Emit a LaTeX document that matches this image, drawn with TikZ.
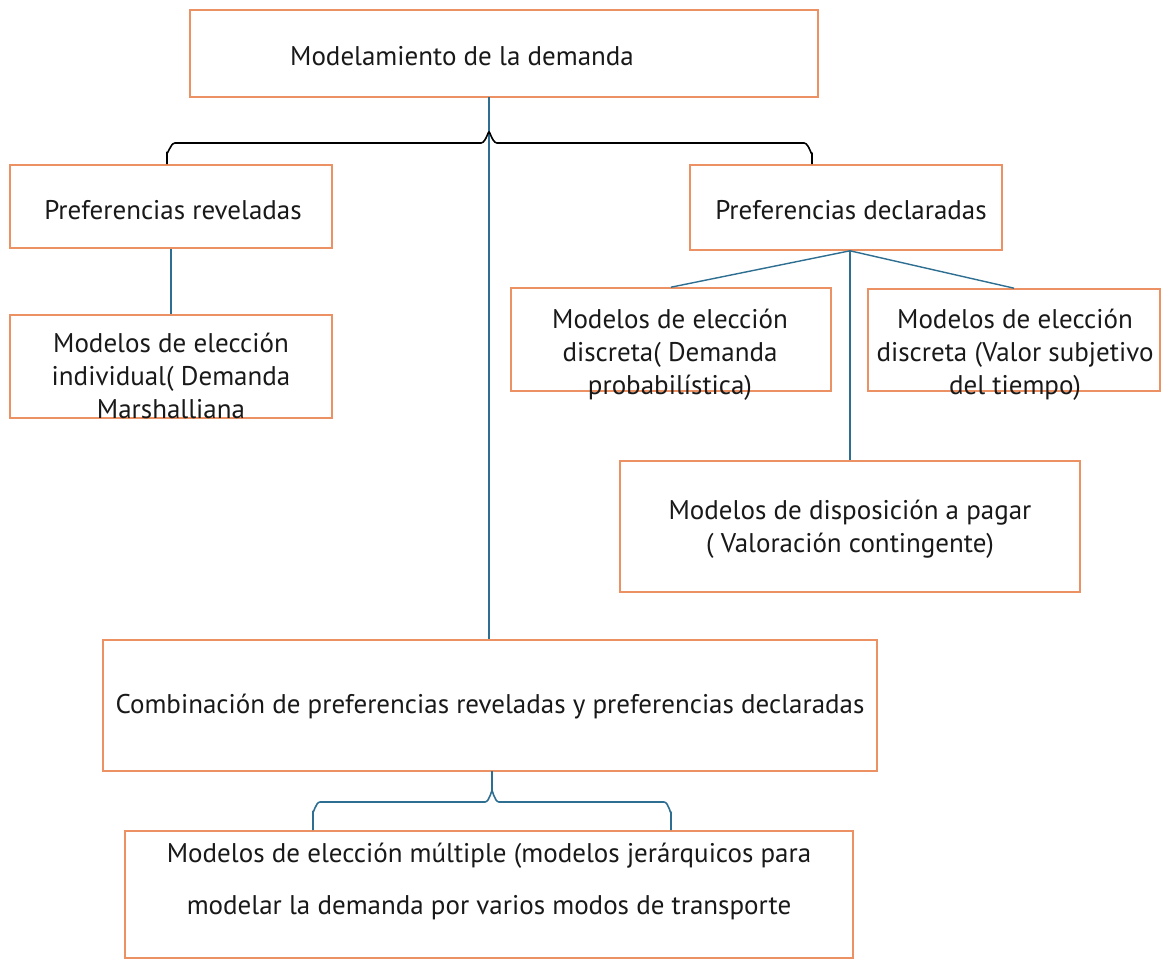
\documentclass[tikz,border=0pt]{standalone}
\usepackage{fontspec}
\setmainfont{PT Sans}
\definecolor{boxorange}{RGB}{235,145,100}
\definecolor{lineblue}{RGB}{45,110,145}
\begin{document}
\begin{tikzpicture}[x=1pt,y=-1pt,
  box/.style={draw=boxorange,line width=1.6pt,inner sep=0pt,fill=white},
  txt/.style={font=\fontsize{27}{33}\selectfont,align=center,inner sep=0pt,text=black!90},
  conn/.style={draw=lineblue,line width=1.4pt},
  brace/.style={line width=1.6pt,line join=round}]
\useasboundingbox[fill=white] (0,0) rectangle (1165,961);
% boxes
\node[box,minimum width=628,minimum height=87] (top) at (504,53.5) {};
\node[txt] (toptxt) at (462,56) {Modelamiento de la demanda};
\node[box,minimum width=322,minimum height=83] (rev) at (171,206.5) {};
\node[txt] (revtxt) at (173,210) {Preferencias reveladas};
\node[box,minimum width=312,minimum height=85] (dec) at (846,207.5) {};
\node[txt] (dectxt) at (851,210) {Preferencias declaradas};
\node[box,minimum width=322,minimum height=103] (ind) at (171,366.5) {};
\node[txt] (indtxt) at (171,376) {Modelos de elección\\individual( Demanda\\Marshalliana};
\node[box,minimum width=320,minimum height=103] (dis) at (671,339.5) {};
\node[txt] (distxt) at (670,355) {Modelos de elección\\discreta( Demanda\\probabilística)};
\node[box,minimum width=292,minimum height=102] (val) at (1014,340) {};
\node[txt] (valtxt) at (1015,355) {Modelos de elección\\discreta (Valor subjetivo\\del tiempo)};
\node[box,minimum width=460,minimum height=131] (pag) at (850,526.5) {};
\node[txt] (pagtxt) at (850,529) {Modelos de disposición a pagar\\( Valoración contingente)};
\node[box,minimum width=774,minimum height=131] (comb) at (490,705.5) {};
\node[txt] (combtxt) at (490,707) {Combinación de preferencias reveladas y preferencias declaradas};
\node[box,minimum width=728,minimum height=127] (mul) at (489,894.5) {};
\node[txt] (multxt) at (489,881) {Modelos de elección múltiple (modelos jerárquicos para\\[19pt]modelar la demanda por varios modos de transporte};
% connectors
\coordinate (c1) at (489,97);
\coordinate (c2) at (492,771);
\draw[conn] (c1) -- (c1 |- comb.north);
\draw[brace,black] (rev.north -| 167,0) -- ++(0,-12) to[out=-90,in=180] (175,143) -- (481,143)
  to[out=0,in=90] (489,133) to[out=90,in=180] (497,143) -- (804,143)
  to[out=0,in=-90] (812,153) -- (dec.north -| 812,0);
\draw[brace,lineblue] (mul.north -| 313,0) -- ++(0,-19) to[out=-90,in=180] (320,802) -- (485,802)
  to[out=0,in=90] (c2 |- 0,792) -- (c2) (c2 |- 0,792) to[out=90,in=180] (499,802) -- (664,802)
  to[out=0,in=-90] (671,812) -- (mul.north -| 671,0);
\draw[conn] (rev.south) -- (ind.north);
\coordinate (d0) at (dec.south -| 850,0);
\draw[conn] (d0) -- (dis.north);
\draw[conn] (d0) -- (val.north);
\draw[conn] (d0) -- (pag.north);
\end{tikzpicture}
\end{document}
